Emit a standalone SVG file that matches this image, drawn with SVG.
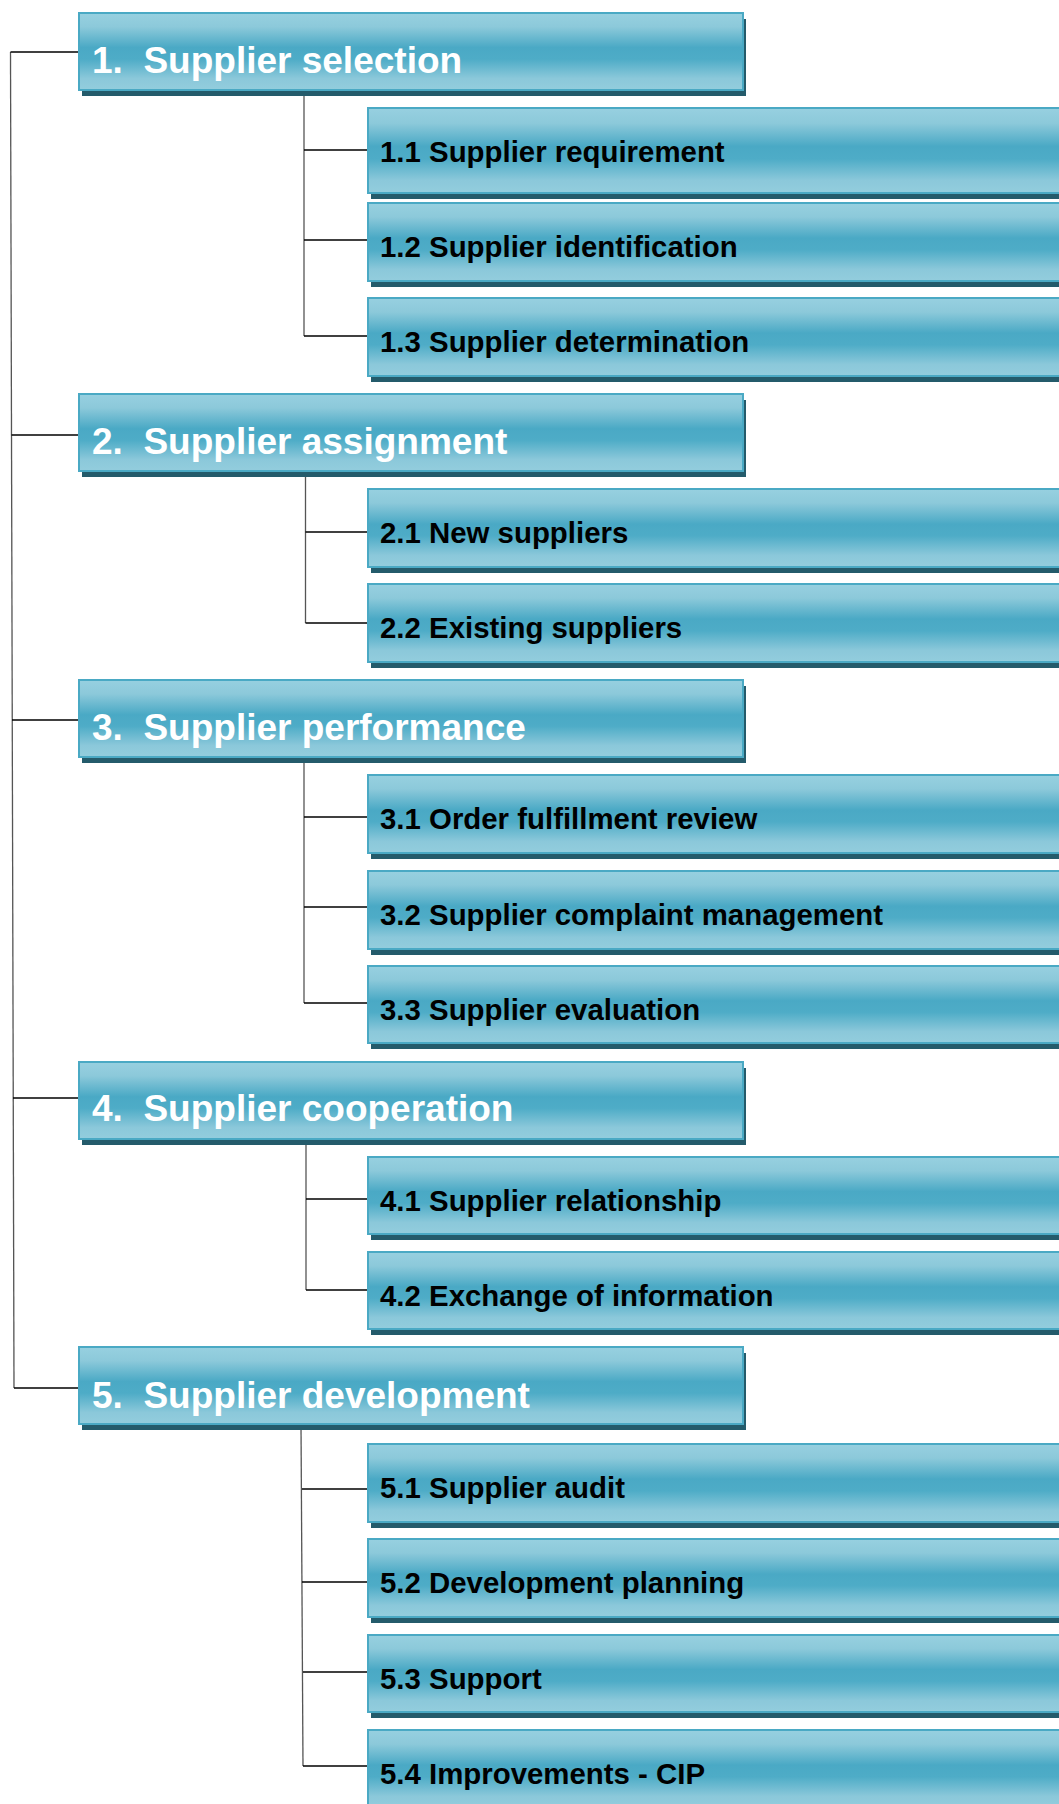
<svg xmlns="http://www.w3.org/2000/svg" width="1059" height="1804" viewBox="0 0 1059 1804">
<defs>
<linearGradient id="g" x1="0" y1="0" x2="0" y2="1">
<stop offset="0" stop-color="#97d0e0"/>
<stop offset="0.18" stop-color="#8cc9da"/>
<stop offset="0.45" stop-color="#4aa9c5"/>
<stop offset="0.6" stop-color="#4eacc7"/>
<stop offset="0.85" stop-color="#8bc8da"/>
<stop offset="1" stop-color="#93cddd"/>
</linearGradient>
<style>
.sh{fill:#245b6b}
.bx{fill:url(#g);stroke:#4aa9c4;stroke-width:2}
.h{font-family:"Liberation Sans",Arial,sans-serif;font-weight:bold;font-size:37px;fill:#fff}
.s{font-family:"Liberation Sans",Arial,sans-serif;font-weight:bold;font-size:29.4px;fill:#000}
.v{stroke:#555;stroke-width:1.3;fill:none}
.hz{stroke:#000;stroke-width:1.7;fill:none}
</style>
</defs>
<rect width="1059" height="1804" fill="#fff"/>
<g id="connectors">
<line class="v" x1="10.5" y1="52" x2="14" y2="1388"/>
<line class="hz" x1="10.5" y1="52" x2="78" y2="52"/>
<line class="hz" x1="11.5" y1="435" x2="78" y2="435"/>
<line class="hz" x1="12" y1="720" x2="78" y2="720"/>
<line class="hz" x1="13" y1="1098" x2="78" y2="1098"/>
<line class="hz" x1="14" y1="1388" x2="78" y2="1388"/>
<line class="v" x1="304" y1="90" x2="304" y2="336"/>
<line class="hz" x1="304" y1="150" x2="367" y2="150"/>
<line class="hz" x1="304" y1="240" x2="367" y2="240"/>
<line class="hz" x1="304" y1="336" x2="367" y2="336"/>
<line class="v" x1="305.5" y1="471" x2="305.5" y2="623"/>
<line class="hz" x1="305.5" y1="532" x2="367" y2="532"/>
<line class="hz" x1="305.5" y1="623" x2="367" y2="623"/>
<line class="v" x1="304" y1="757" x2="304" y2="1003"/>
<line class="hz" x1="304" y1="817" x2="367" y2="817"/>
<line class="hz" x1="304" y1="907" x2="367" y2="907"/>
<line class="hz" x1="304" y1="1003" x2="367" y2="1003"/>
<line class="v" x1="306" y1="1139" x2="306" y2="1290"/>
<line class="hz" x1="306" y1="1199" x2="367" y2="1199"/>
<line class="hz" x1="306" y1="1290" x2="367" y2="1290"/>
<line class="v" x1="301" y1="1424" x2="303" y2="1766"/>
<line class="hz" x1="302" y1="1489" x2="367" y2="1489"/>
<line class="hz" x1="302" y1="1582" x2="367" y2="1582"/>
<line class="hz" x1="303" y1="1672" x2="367" y2="1672"/>
<line class="hz" x1="303" y1="1766" x2="367" y2="1766"/>
</g>
<g id="n1"><rect class="sh" x="82" y="19" width="664" height="77"/><rect class="bx" x="79" y="13" width="664" height="77"/><text class="h" x="92" y="73">1.&#160; Supplier selection</text></g>
<g id="n1_1"><rect class="sh" x="371" y="114" width="720" height="85"/><rect class="bx" x="368" y="108" width="720" height="85"/><text class="s" x="380" y="162">1.1 Supplier requirement</text></g>
<g id="n1_2"><rect class="sh" x="371" y="209" width="720" height="78"/><rect class="bx" x="368" y="203" width="720" height="78"/><text class="s" x="380" y="257">1.2 Supplier identification</text></g>
<g id="n1_3"><rect class="sh" x="371" y="304" width="720" height="78"/><rect class="bx" x="368" y="298" width="720" height="78"/><text class="s" x="380" y="352">1.3 Supplier determination</text></g>
<g id="n2"><rect class="sh" x="82" y="400" width="664" height="77"/><rect class="bx" x="79" y="394" width="664" height="77"/><text class="h" x="92" y="454">2.&#160; Supplier assignment</text></g>
<g id="n2_1"><rect class="sh" x="371" y="495" width="720" height="78"/><rect class="bx" x="368" y="489" width="720" height="78"/><text class="s" x="380" y="543">2.1 New suppliers</text></g>
<g id="n2_2"><rect class="sh" x="371" y="590" width="720" height="78"/><rect class="bx" x="368" y="584" width="720" height="78"/><text class="s" x="380" y="638">2.2 Existing suppliers</text></g>
<g id="n3"><rect class="sh" x="82" y="686" width="664" height="77"/><rect class="bx" x="79" y="680" width="664" height="77"/><text class="h" x="92" y="740">3.&#160; Supplier performance</text></g>
<g id="n3_1"><rect class="sh" x="371" y="781" width="720" height="78"/><rect class="bx" x="368" y="775" width="720" height="78"/><text class="s" x="380" y="829">3.1 Order fulfillment review</text></g>
<g id="n3_2"><rect class="sh" x="371" y="877" width="720" height="78"/><rect class="bx" x="368" y="871" width="720" height="78"/><text class="s" x="380" y="925">3.2 Supplier complaint management</text></g>
<g id="n3_3"><rect class="sh" x="371" y="972" width="720" height="77"/><rect class="bx" x="368" y="966" width="720" height="77"/><text class="s" x="380" y="1020">3.3 Supplier evaluation</text></g>
<g id="n4"><rect class="sh" x="82" y="1068" width="664" height="77"/><rect class="bx" x="79" y="1062" width="664" height="77"/><text class="h" x="92" y="1121">4.&#160; Supplier cooperation</text></g>
<g id="n4_1"><rect class="sh" x="371" y="1163" width="720" height="77"/><rect class="bx" x="368" y="1157" width="720" height="77"/><text class="s" x="380" y="1211">4.1 Supplier relationship</text></g>
<g id="n4_2"><rect class="sh" x="371" y="1258" width="720" height="77"/><rect class="bx" x="368" y="1252" width="720" height="77"/><text class="s" x="380" y="1306">4.2 Exchange of information</text></g>
<g id="n5"><rect class="sh" x="82" y="1353" width="664" height="77"/><rect class="bx" x="79" y="1347" width="664" height="77"/><text class="h" x="92" y="1408">5.&#160; Supplier development</text></g>
<g id="n5_1"><rect class="sh" x="371" y="1450" width="720" height="78"/><rect class="bx" x="368" y="1444" width="720" height="78"/><text class="s" x="380" y="1498">5.1 Supplier audit</text></g>
<g id="n5_2"><rect class="sh" x="371" y="1545" width="720" height="78"/><rect class="bx" x="368" y="1539" width="720" height="78"/><text class="s" x="380" y="1593">5.2 Development planning</text></g>
<g id="n5_3"><rect class="sh" x="371" y="1641" width="720" height="77"/><rect class="bx" x="368" y="1635" width="720" height="77"/><text class="s" x="380" y="1689">5.3 Support</text></g>
<g id="n5_4"><rect class="sh" x="371" y="1736" width="720" height="78"/><rect class="bx" x="368" y="1730" width="720" height="78"/><text class="s" x="380" y="1784">5.4 Improvements - CIP</text></g>
</svg>
